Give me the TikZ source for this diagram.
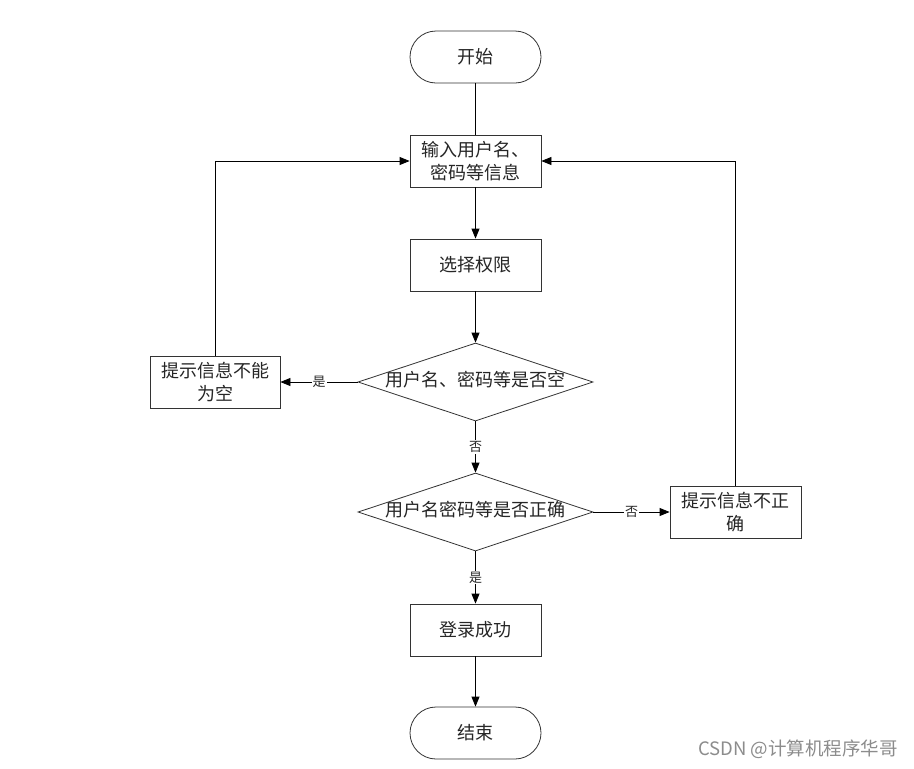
\documentclass[tikz,border=0pt]{standalone}
\usepackage{fontspec}
\setmainfont{Noto Sans CJK SC}
\newfontfamily\cjk{Noto Sans CJK SC}
\usetikzlibrary{shapes.geometric,arrows.meta}
\begin{document}
\begin{tikzpicture}[x=1pt,y=-1pt,
  every node/.style={font=\cjk\fontsize{18}{23}\selectfont, text=black!85},
  stadium/.style={draw=black!80, line width=0.8pt, rectangle, rounded corners=26pt, minimum width=131pt, minimum height=52pt, inner sep=0pt},
  procbox/.style={draw=black!80, line width=0.8pt, rectangle, minimum width=131pt, minimum height=52pt, inner sep=0pt, align=center},
  decide/.style={draw=black!80, line width=0.8pt, diamond, shape aspect=3, inner sep=0pt, minimum width=235pt, minimum height=78pt, text height=12pt, text depth=4pt},
  conn/.style={draw=black, line width=0.8pt},
  arr/.style={conn, -{Triangle[length=10pt,width=8pt]}},
  lbl/.style={font=\cjk\fontsize{13}{15}\selectfont, fill=white, inner sep=1pt}
]
\useasboundingbox (0,0) rectangle (914,769);
\fill[white] (0,0) rectangle (914,769);

\node[stadium] (start) at (475.5,57) {开始};
\node[procbox] (input) at (475.5,161) {输入用户名、\\密码等信息};
\node[procbox] (perm) at (475.5,265) {选择权限};
\node[decide] (d1) at (475.5,382) {用户名、密码等是否空};
\node[procbox, minimum width=130pt] (empty) at (215,382) {提示信息不能\\为空};
\node[decide] (d2) at (475.5,512) {用户名密码等是否正确};
\node[procbox] (wrong) at (735.5,512) {提示信息不正\\确};
\node[procbox] (ok) at (475.5,630) {登录成功};
\node[stadium] (stop) at (475.5,733) {结束};

\draw[conn] (start) -- (input);
\draw[arr] (input) -- (perm);
\draw[arr] (perm) -- (d1);
\draw[arr] (d1.west) -- node[lbl]{是} (empty.east);
\draw[arr] (d1.south) -- node[lbl]{否} (d2.north);
\draw[arr] (d2.east) -- node[lbl]{否} (wrong.west);
\draw[arr] (d2.south) -- node[lbl]{是} (ok.north);
\draw[arr] (ok) -- (stop);
\draw[arr] (empty.north) |- (input.west);
\draw[arr] (wrong.north) |- (input.east);

\node[anchor=east, font=\cjk\fontsize{18.5}{20}\selectfont, text=black!45, inner sep=0pt] (wm) at (898,749) {CSDN @计算机程序华哥};
\end{tikzpicture}
\end{document}
